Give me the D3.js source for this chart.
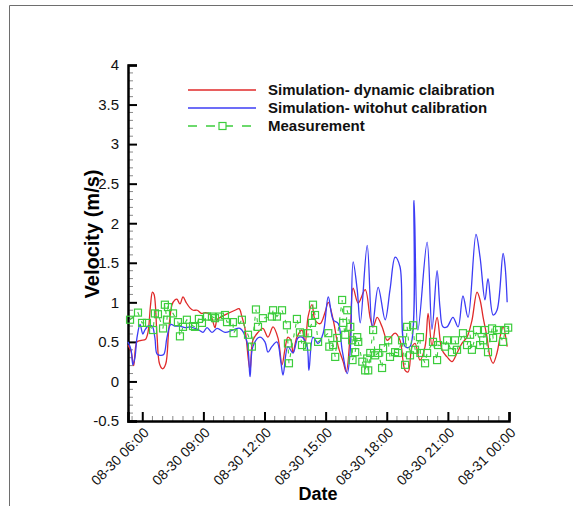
<!DOCTYPE html>
<html>
<head>
<meta charset="utf-8">
<script src="https://cdn.jsdelivr.net/npm/d3@7"></script>
<style>
  html, body { margin: 0; padding: 0; background: #fff; }
  svg { display: block; font-family: "Liberation Sans", Arial, sans-serif; }
</style>
</head>
<body>
<svg id="chart" width="573" height="506"></svg>
<script>
// Hours since 08-30 00:00 and velocity (m/s) for each series
const dynHours = [5.30,5.45,5.58,5.74,5.95,6.15,6.28,6.40,6.50,6.58,6.72,6.85,7.00,7.15,7.30,7.46,7.60,7.70,7.85,8.00,8.15,8.34,8.50,8.70,8.90,9.10,9.32,9.42,9.57,9.67,9.91,10.21,10.55,10.75,10.89,11.04,11.29,11.43,11.68,11.92,12.17,12.42,12.66,12.86,13.00,13.15,13.30,13.40,13.59,13.84,13.99,14.14,14.33,14.48,14.73,14.98,15.13,15.37,15.62,15.86,16.01,16.21,16.35,16.60,16.94,17.19,17.33,17.53,17.77,18.02,18.16,18.41,18.65,18.90,19.05,19.24,19.39,19.63,19.88,20.03,20.22,20.47,20.71,20.96,21.20,21.45,21.69,21.94,22.18,22.43,22.58,22.73,22.92,23.07,23.22,23.41,23.56,23.71,23.91];
const dynValues = [0.46,0.38,0.20,0.50,0.52,0.53,0.62,0.95,1.13,1.10,0.60,0.22,0.16,0.22,0.65,0.97,1.03,1.04,0.98,1.07,1.00,0.93,0.90,0.90,0.86,0.87,0.85,0.80,0.68,0.78,0.82,0.86,0.90,0.92,0.82,0.67,0.14,0.52,0.62,0.67,0.56,0.69,0.55,0.21,0.40,0.56,0.52,0.36,0.56,0.65,0.48,0.82,0.97,0.78,0.73,0.88,1.00,0.78,0.44,0.25,0.12,0.62,1.18,0.99,1.16,0.80,0.69,0.81,0.69,0.52,0.55,0.61,0.52,0.14,0.12,0.44,0.48,0.27,0.44,0.86,0.45,0.81,0.40,0.31,0.25,0.36,0.48,0.56,0.77,1.13,1.03,0.81,0.56,0.31,0.23,0.36,0.56,0.69,0.44];

const rawHours = [5.30,5.45,5.54,5.64,5.74,5.89,6.03,6.13,6.28,6.48,6.62,6.72,6.87,7.05,7.21,7.40,7.61,7.85,8.10,8.34,8.59,8.78,8.98,9.18,9.42,9.67,10.06,10.45,10.80,11.14,11.29,11.43,11.77,12.02,12.17,12.36,12.61,12.81,12.91,13.15,13.40,13.64,13.84,14.09,14.18,14.38,14.63,14.88,15.13,15.37,15.62,15.81,16.06,16.21,16.35,16.55,16.70,17.04,17.29,17.58,17.92,18.16,18.41,18.65,18.90,19.14,19.34,19.53,19.98,20.22,20.47,20.61,20.76,20.96,21.25,21.50,21.74,21.99,22.38,22.58,22.82,22.97,23.22,23.41,23.71,23.81,23.91];
const rawValues = [0.50,0.40,0.21,0.30,0.55,0.72,0.60,0.65,0.70,0.70,0.55,0.35,0.33,0.34,0.55,0.72,0.70,0.70,0.68,0.69,0.67,0.65,0.62,0.68,0.62,0.67,0.62,0.65,0.67,0.50,0.06,0.44,0.56,0.50,0.37,0.44,0.50,0.23,0.08,0.44,0.36,0.55,0.56,0.44,0.14,0.56,0.48,0.61,1.07,0.78,0.73,0.40,0.10,0.40,1.51,1.16,0.74,1.72,0.69,1.19,0.78,1.16,1.57,1.45,0.44,0.44,2.29,0.65,1.76,0.66,1.40,0.94,0.69,0.69,0.81,0.69,1.08,0.81,1.86,1.57,1.03,1.30,0.84,0.90,1.62,1.45,1.00];

const measHours = [5.40,5.79,5.99,6.23,6.53,6.62,6.77,7.02,7.11,7.21,7.26,7.51,7.75,7.85,8.00,8.19,8.49,8.59,8.78,8.93,9.18,9.42,9.57,9.81,10.06,10.16,10.45,10.48,10.89,11.19,11.38,11.58,11.68,11.92,12.36,12.42,12.61,12.86,13.10,13.15,13.20,13.59,13.74,13.84,14.09,14.14,14.33,14.38,14.48,14.63,15.13,15.18,15.37,15.47,15.57,15.81,15.86,15.96,16.06,16.21,16.30,16.32,16.45,16.55,16.60,16.80,16.94,17.04,17.09,17.19,17.33,17.43,17.58,17.77,17.82,18.07,18.16,18.41,18.55,18.75,18.90,19.00,19.14,19.29,19.39,19.63,19.65,19.88,19.98,20.27,20.47,20.52,20.86,20.96,21.20,21.35,21.45,21.74,21.94,22.09,22.18,22.43,22.58,22.73,22.82,22.97,23.17,23.22,23.41,23.71,23.81,23.96];
const measValues = [0.78,0.87,0.74,0.74,0.65,0.86,0.85,0.67,0.97,0.78,0.94,0.86,0.75,0.57,0.69,0.78,0.70,0.69,0.79,0.74,0.82,0.82,0.80,0.82,0.84,0.75,0.75,0.61,0.78,0.59,0.44,0.91,0.69,0.80,0.82,0.90,0.82,0.90,0.71,0.48,0.23,0.79,0.62,0.46,0.44,0.61,0.74,0.97,0.84,0.50,0.61,0.44,0.46,0.31,0.55,1.03,0.74,0.59,0.90,0.69,0.52,0.27,0.37,0.56,0.50,0.25,0.14,0.29,0.14,0.36,0.65,0.33,0.36,0.17,0.42,0.52,0.31,0.37,0.36,0.52,0.21,0.69,0.33,0.71,0.40,0.56,0.36,0.23,0.36,0.50,0.27,0.46,0.44,0.52,0.37,0.52,0.40,0.61,0.46,0.59,0.40,0.65,0.46,0.52,0.65,0.37,0.67,0.55,0.65,0.50,0.65,0.68];

// Axis ticks and labels
const xTickHours = [6, 9, 12, 15, 18, 21, 24];
const xTickLabels = ["08-30 06:00","08-30 09:00","08-30 12:00","08-30 15:00","08-30 18:00","08-30 21:00","08-31 00:00"];
const yTickValues = [-0.5, 0, 0.5, 1, 1.5, 2, 2.5, 3, 3.5, 4];
const yTickLabels = ["-0.5","0","0.5","1","1.5","2","2.5","3","3.5","4"];

const seriesNames = ["Simulation- dynamic claibration", "Simulation- witohut calibration", "Measurement"];
const seriesColors = ["#e02a2a", "#3c3cf5", "#3ccd3c"];

const svg = d3.select("#chart");

// outer frame
svg.append("path")
  .attr("d", "M9.5,506 V5.5 H573")
  .attr("fill", "none")
  .attr("stroke", "#6e6e6e")
  .attr("stroke-width", 1);

const x = d3.scaleLinear().domain([5.3, 24]).range([128, 509]);
const y = d3.scaleLinear().domain([-0.5, 4]).range([421, 65]);

// minor ticks
const xMinor = d3.range(5.5, 24, 0.5).filter(h => !xTickHours.includes(h));
const yMinor = d3.range(-0.4, 4, 0.1).map(v => +v.toFixed(1)).filter(v => !yTickValues.includes(v));

const minorG = svg.append("g").attr("stroke", "#8a8a8a").attr("stroke-width", 1);
minorG.selectAll("line.xm").data(xMinor).join("line")
  .attr("x1", d => x(d)).attr("x2", d => x(d))
  .attr("y1", 421).attr("y2", 416);
minorG.selectAll("line.ym").data(yMinor).join("line")
  .attr("y1", d => y(d)).attr("y2", d => y(d))
  .attr("x1", 128).attr("x2", 133);

// axes with inward major ticks
const xAxis = d3.axisBottom(x)
  .tickValues(xTickHours)
  .tickSize(-9)
  .tickFormat(() => "");
const yAxis = d3.axisLeft(y)
  .tickValues(yTickValues)
  .tickSize(-9)
  .tickPadding(9)
  .tickFormat((d, i) => yTickLabels[i]);

const gx = svg.append("g").attr("transform", "translate(0,421)").call(xAxis);
const gy = svg.append("g").attr("transform", "translate(128,0)").call(yAxis);

[gx, gy].forEach(g => {
  g.select(".domain").attr("stroke", "#000").attr("stroke-width", 2.5);
  g.selectAll(".tick line").attr("stroke", "#000").attr("stroke-width", 2);
});
gy.selectAll(".tick text")
  .attr("font-size", 15)
  .attr("fill", "#111")
  .attr("font-family", "Liberation Sans, Arial, sans-serif");

// rotated date labels
svg.append("g").selectAll("text").data(xTickHours).join("text")
  .attr("transform", d => `translate(${x(d) + 4},${430}) rotate(-45)`)
  .attr("text-anchor", "end")
  .attr("dy", "0.35em")
  .attr("font-size", 14)
  .attr("fill", "#111")
  .text((d, i) => xTickLabels[i]);

// axis titles
svg.append("text")
  .attr("transform", "translate(99,234) rotate(-90)")
  .attr("text-anchor", "middle")
  .attr("font-size", 20)
  .attr("font-weight", "bold")
  .text("Velocity (m/s)");
svg.append("text")
  .attr("x", 318).attr("y", 500)
  .attr("text-anchor", "middle")
  .attr("font-size", 18)
  .attr("font-weight", "bold")
  .text("Date");

// series
const line = d3.line().x(d => x(d[0])).y(d => y(d[1])).curve(d3.curveCatmullRom.alpha(0.5));
const dynData = dynHours.map((h, i) => [h, dynValues[i]]);
const rawData = rawHours.map((h, i) => [h, rawValues[i]]);
const measData = measHours.map((h, i) => [h, measValues[i]]);

svg.append("path").datum(dynData)
  .attr("d", line).attr("fill", "none")
  .attr("stroke", seriesColors[0]).attr("stroke-width", 1.3);
svg.append("path").datum(rawData)
  .attr("d", line).attr("fill", "none")
  .attr("stroke", seriesColors[1]).attr("stroke-width", 1.3);

const measLine = d3.line().x(d => x(d[0])).y(d => y(d[1]));
svg.append("path").datum(measData)
  .attr("d", measLine).attr("fill", "none")
  .attr("stroke", seriesColors[2]).attr("stroke-width", 1.1)
  .attr("stroke-dasharray", "4,6");
svg.append("g").selectAll("rect").data(measData).join("rect")
  .attr("x", d => x(d[0]) - 3.5).attr("y", d => y(d[1]) - 3.5)
  .attr("width", 7).attr("height", 7)
  .attr("fill", "none")
  .attr("stroke", seriesColors[2]).attr("stroke-width", 1.2);

// legend
const legend = svg.append("g");
const legendRows = [90, 108, 126];
seriesNames.forEach((name, i) => {
  const ly = legendRows[i];
  const seg = legend.append("line")
    .attr("x1", 188).attr("x2", 256).attr("y1", ly).attr("y2", ly)
    .attr("stroke", seriesColors[i]).attr("stroke-width", i === 2 ? 1.6 : 1.3);
  if (i === 2) {
    seg.attr("stroke-dasharray", "9,9").attr("stroke-dashoffset", 0);
    legend.append("rect")
      .attr("x", 219).attr("y", ly - 3.5).attr("width", 7).attr("height", 7)
      .attr("fill", "#fff").attr("stroke", seriesColors[i]).attr("stroke-width", 1.2);
  }
  legend.append("text")
    .attr("x", 268).attr("y", ly).attr("dy", "0.35em")
    .attr("font-size", 15).attr("font-weight", "bold")
    .attr("fill", "#111")
    .text(name);
});
</script>
</body>
</html>
